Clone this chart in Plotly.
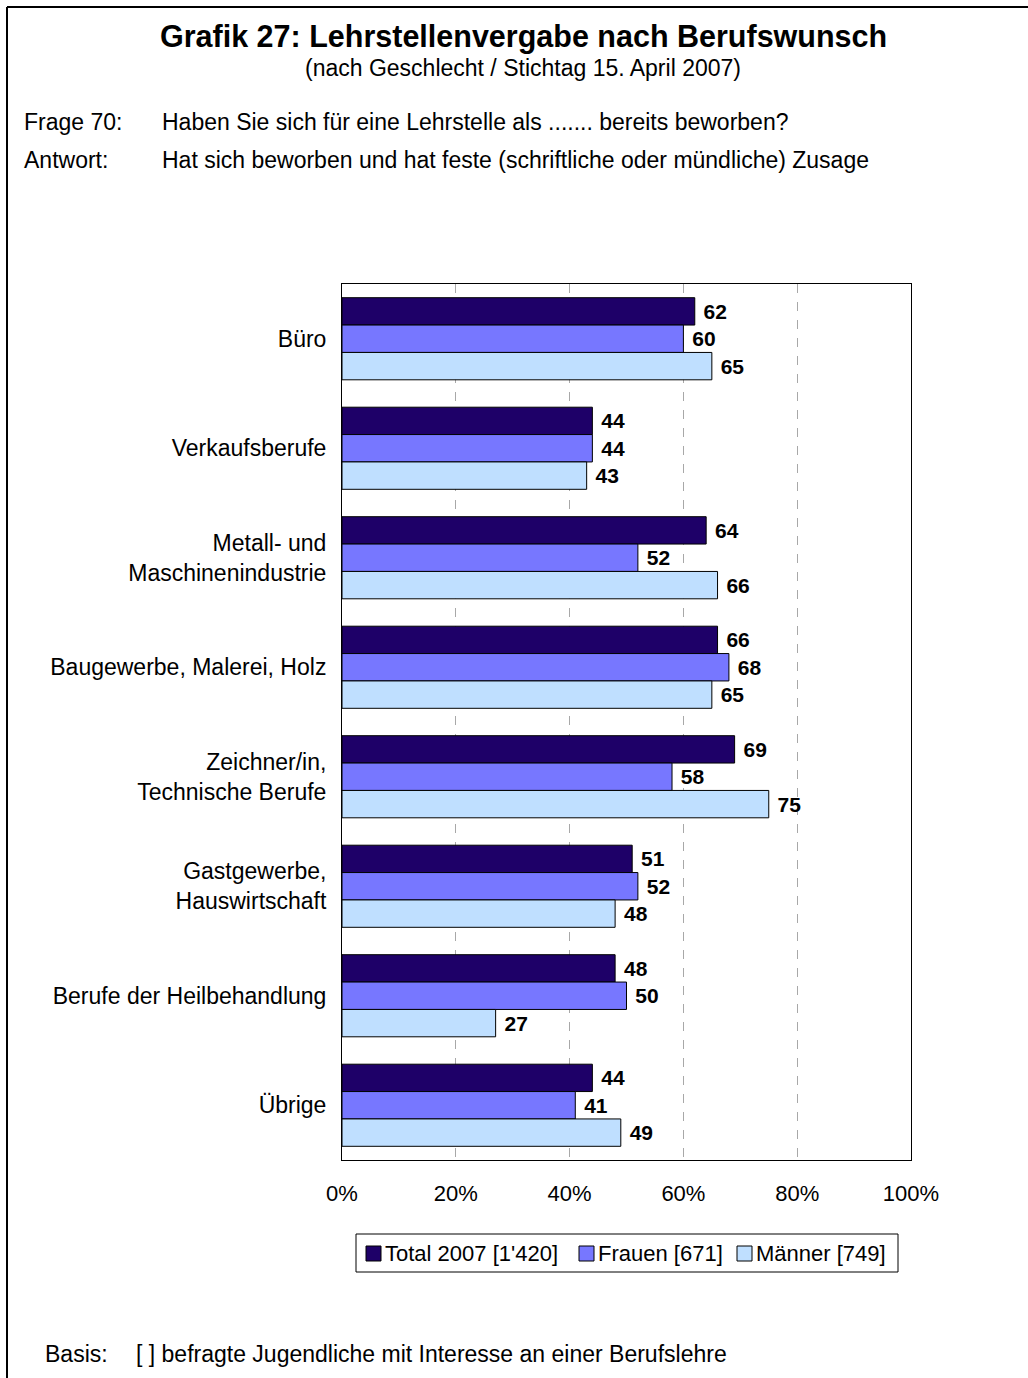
import plotly.graph_objects as go

# Berufsfelder (von oben nach unten)
categories = [
    "Büro",
    "Verkaufsberufe",
    "Metall- und<br>Maschinenindustrie",
    "Baugewerbe, Malerei, Holz",
    "Zeichner/in,<br>Technische Berufe",
    "Gastgewerbe,<br>Hauswirtschaft",
    "Berufe der Heilbehandlung",
    "Übrige",
]

# Anteil mit fester Zusage in %
total_2007 = [62, 44, 64, 66, 69, 51, 48, 44]
frauen = [60, 44, 52, 68, 58, 52, 50, 41]
maenner = [65, 43, 66, 65, 75, 48, 27, 49]

series_names = ["Total 2007 [1'420]", "Frauen [671]", "Männer [749]"]
series_values = [total_2007, frauen, maenner]
series_colors = ["#1E0068", "#7777FF", "#BFDFFF"]

x_tickvals = [0, 20, 40, 60, 80, 100]
x_ticktext = ["0%", "20%", "40%", "60%", "80%", "100%"]

FONT = "Liberation Sans, Arial, sans-serif"
W, H = 1028, 1378


def px_x(v):
    return v / W


def px_y(v):
    return 1 - v / H


fig = go.Figure()
for name, vals, col in zip(series_names, series_values, series_colors):
    fig.add_trace(go.Bar(
        name=name,
        y=categories,
        x=vals,
        orientation="h",
        marker=dict(color=col, line=dict(color="#000000", width=1)),
        text=[str(v) for v in vals],
        texttemplate=" %{text}",
        textposition="outside",
        textfont=dict(family=FONT, size=21, color="#000000", weight="bold"),
        cliponaxis=False,
        showlegend=False,
    ))

fig.update_layout(
    template="none",
    width=W,
    height=H,
    autosize=False,
    margin=dict(l=0, r=0, t=0, b=0, pad=0),
    paper_bgcolor="white",
    plot_bgcolor="white",
    barmode="group",
    bargap=0.25,
    bargroupgap=0,
    font=dict(family=FONT, size=22, color="#000000"),
    showlegend=False,
    xaxis=dict(
        domain=[px_x(342), px_x(911)],
        range=[0, 100],
        tickvals=x_tickvals,
        ticktext=x_ticktext,
        showgrid=True,
        gridcolor="#A8A8A8",
        griddash="dash",
        gridwidth=1,
        showline=True,
        linecolor="#000000",
        linewidth=1,
        mirror=True,
        zeroline=False,
        ticks="",
        automargin=False,
        ticklabelstandoff=14,
        tickfont=dict(family=FONT, size=22, color="#000000"),
    ),
    yaxis=dict(
        domain=[px_y(1160), px_y(284)],
        autorange="reversed",
        showgrid=False,
        showline=True,
        linecolor="#000000",
        linewidth=1,
        mirror=True,
        zeroline=False,
        ticks="",
        automargin=False,
        ticklabelstandoff=10,
        tickfont=dict(family=FONT, size=23, color="#000000"),
    ),
)

# Titel und Erläuterungen
texts = [
    ("<b>Grafik 27: Lehrstellenvergabe nach Berufswunsch</b>", 523, 36, "center", 30.5),
    ("(nach Geschlecht / Stichtag 15. April 2007)", 523, 68, "center", 23),
    ("Frage 70:", 22, 122, "left", 23),
    ("Haben Sie sich für eine Lehrstelle als ....... bereits beworben?", 160, 122, "left", 23),
    ("Antwort:", 22, 160, "left", 23),
    ("Hat sich beworben und hat feste (schriftliche oder mündliche) Zusage", 160, 160, "left", 23),
    ("Basis:", 43, 1354, "left", 23),
    ("[ ] befragte Jugendliche mit Interesse an einer Berufslehre", 134, 1354, "left", 23),
]
for txt, x, y, anchor, size in texts:
    fig.add_annotation(
        text=txt, xref="paper", yref="paper", x=px_x(x), y=px_y(y),
        xanchor=anchor, yanchor="middle", showarrow=False,
        font=dict(family=FONT, size=size, color="#000000"),
    )

# Legende: Rahmen, Farbfelder und Beschriftungen
fig.add_shape(type="rect", xref="paper", yref="paper",
              x0=px_x(356), x1=px_x(898), y0=px_y(1272), y1=px_y(1234),
              line=dict(color="#000000", width=1), fillcolor="white")
legend_left = [366, 579, 737]
for name, col, lx in zip(series_names, series_colors, legend_left):
    fig.add_shape(type="rect", xref="paper", yref="paper",
                  x0=px_x(lx), x1=px_x(lx + 15), y0=px_y(1261), y1=px_y(1246),
                  line=dict(color="#000000", width=1), fillcolor=col)
    fig.add_annotation(
        text=name, xref="paper", yref="paper", x=px_x(lx + 17), y=px_y(1253),
        xanchor="left", yanchor="middle", showarrow=False,
        font=dict(family=FONT, size=22, color="#000000"),
    )

# Rahmenlinien oben und links
fig.add_shape(type="line", xref="paper", yref="paper",
              x0=px_x(7), y0=px_y(7), x1=1, y1=px_y(7),
              line=dict(color="#000000", width=2))
fig.add_shape(type="line", xref="paper", yref="paper",
              x0=px_x(7), y0=px_y(7), x1=px_x(7), y1=0,
              line=dict(color="#000000", width=2))

fig.write_html("out.html")
